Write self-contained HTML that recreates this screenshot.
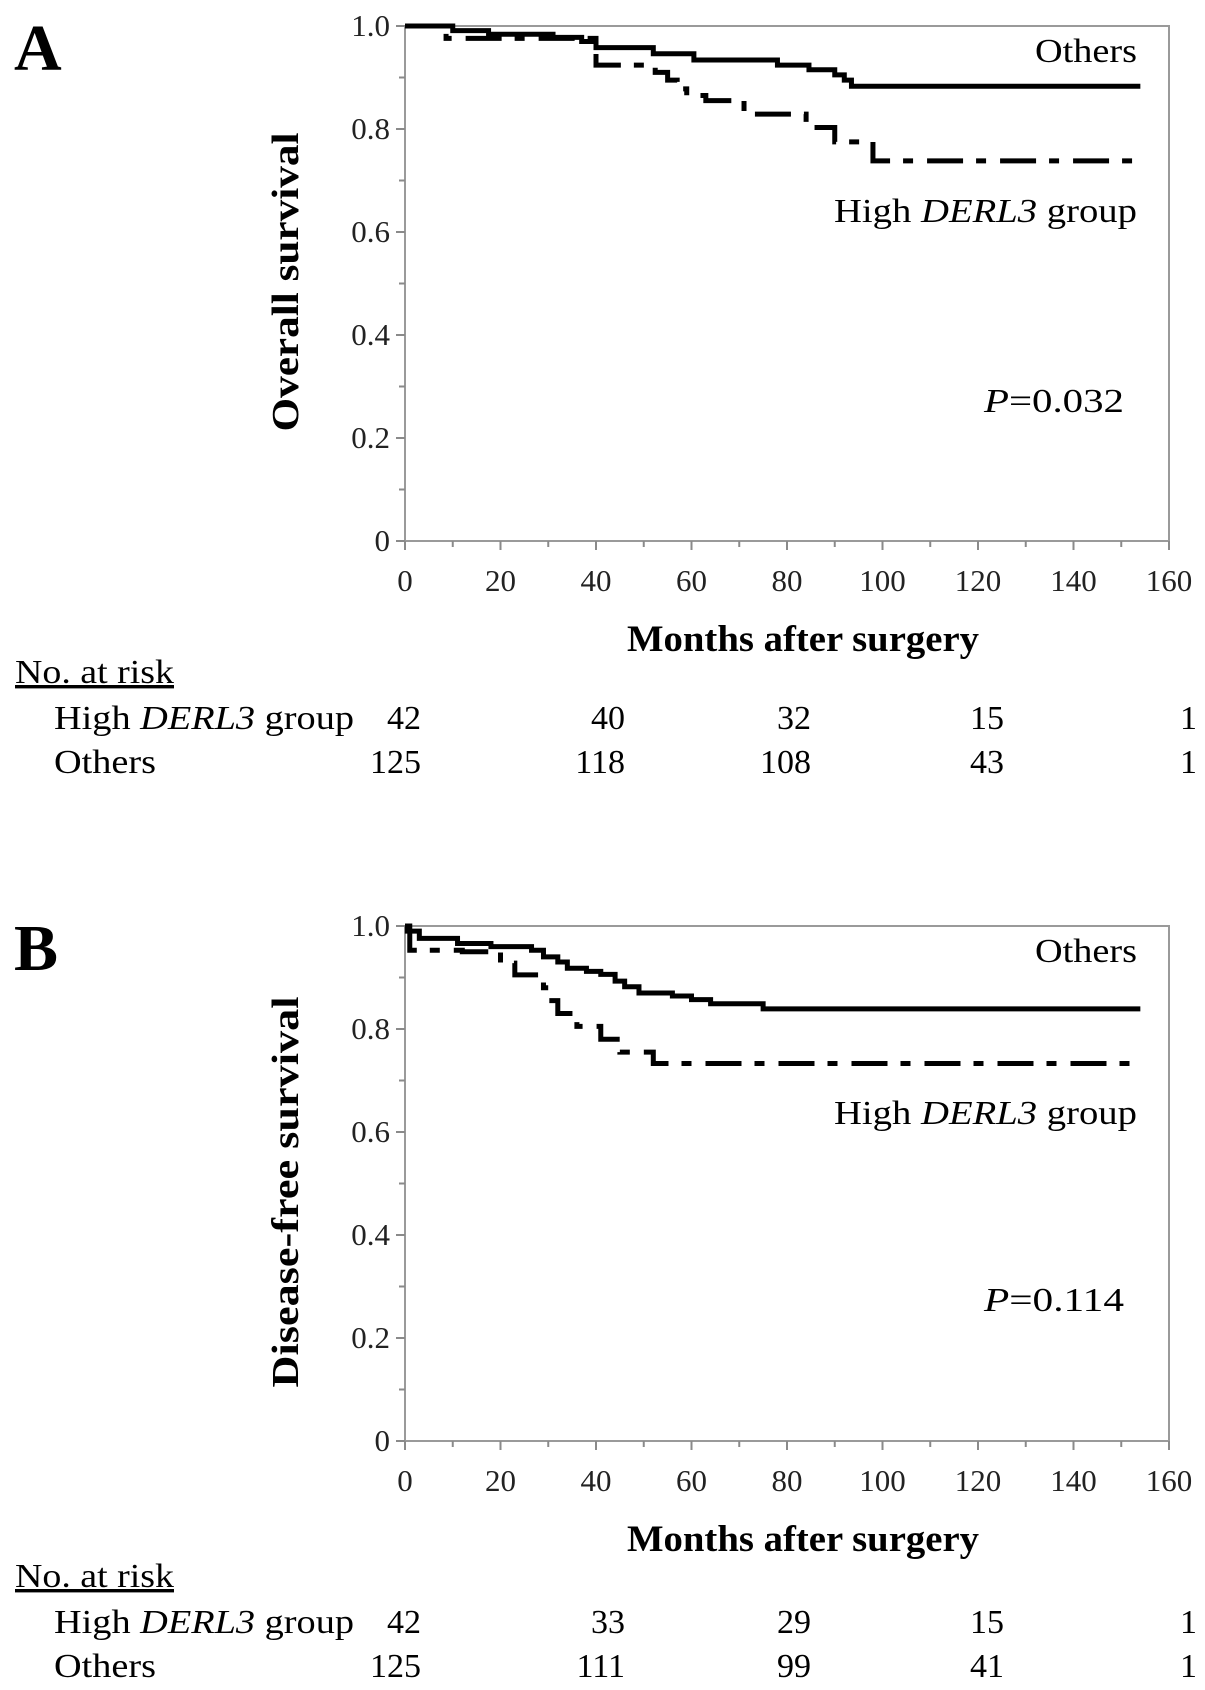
<!DOCTYPE html>
<html><head><meta charset="utf-8">
<style>
html,body{margin:0;padding:0;background:#fff;}
svg{display:block;font-family:"Liberation Serif",serif;}
</style></head>
<body>
<svg id="fig" width="1205" height="1690" viewBox="0 0 1205 1690" xmlns="http://www.w3.org/2000/svg"></svg>
<script>
// ---- data ----
const xTicks = [0,20,40,60,80,100,120,140,160];
const yTicks = [0,0.2,0.4,0.6,0.8,1.0];
const yTickLabels = ["0","0.2","0.4","0.6","0.8","1.0"];
const riskMonths = [0,40,80,120,160];
// Panel A overall survival (time, survival)
const aOthersT = [0,10,17.5,31,37,40,52,60.5,78,84.6,90,92,93.5,154];
const aOthersS = [1.0,0.991,0.984,0.978,0.97,0.958,0.946,0.934,0.924,0.915,0.905,0.895,0.883,0.883];
const aHighT = [0,8.6,40,52.4,55,57,59,63,71,84,90,98,154];
const aHighS = [1.0,0.976,0.924,0.91,0.895,0.878,0.865,0.855,0.829,0.803,0.775,0.738,0.738];
// Panel B disease-free survival
const bOthersT = [0,0.5,3,11,18,26.5,29,32,34,38,41,44,46,49,56,60,64,75,154];
const bOthersS = [1.0,0.99,0.976,0.966,0.96,0.953,0.94,0.93,0.918,0.912,0.906,0.893,0.882,0.87,0.864,0.857,0.849,0.839,0.839];
const bHighT = [0,1,12,20,23,29,30,32,36,41,45,52,154];
const bHighS = [1.0,0.953,0.95,0.928,0.905,0.88,0.855,0.83,0.805,0.78,0.755,0.733,0.733];
const aRiskHigh = ["42","40","32","15","1"];
const aRiskOthers = ["125","118","108","43","1"];
const bRiskHigh = ["42","33","29","15","1"];
const bRiskOthers = ["125","111","99","41","1"];

const NS="http://www.w3.org/2000/svg";
const svg=document.getElementById('fig');
function mk(tag,attrs,parent){const e=document.createElementNS(NS,tag);for(const k in attrs)e.setAttribute(k,attrs[k]);(parent||svg).appendChild(e);return e;}

const X0=405,X1=1169;
function xs(m){return X0+(X1-X0)*m/160;}
const LA='spacingAndGlyphs';

function panel(cfg){
  const top=cfg.top, bot=top+515;
  function ys(v){return bot-(bot-top)*v;}
  const g=mk('g',{});
  
  
  const letter=mk('text',{x:14,y:cfg.top+44,'font-size':66,'font-weight':'bold'},g);
  letter.textContent=cfg.letter;
  
  
  const frame=mk('rect',{x:X0,y:top,width:X1-X0,height:515,fill:'none',stroke:'#9a9a9a','stroke-width':2},g);
  
  
  for(let m=0;m<=160;m+=10){
    const t=mk('line',{x1:xs(m),x2:xs(m),y1:bot,y2:bot+(m%20===0?9:6),stroke:'#8a8a8a','stroke-width':2},g);
    
    
  }
  for(let i=0;i<=10;i++){
    const v=i/10;
    const t=mk('line',{x1:X0-(i%2===0?9:6),x2:X0,y1:ys(v),y2:ys(v),stroke:'#8a8a8a','stroke-width':2},g);
    
    
  }
  xTicks.forEach(m=>{
    const t=mk('text',{x:xs(m),y:top+565,'font-size':31,'text-anchor':'middle',fill:'#222'},g);
    t.textContent=String(m);
    
    
  });
  yTicks.forEach((v,i)=>{
    const t=mk('text',{x:390,y:ys(v)+10,'font-size':31,'text-anchor':'end',fill:'#222'},g);
    t.textContent=yTickLabels[i];
    
    
  });
  const yt=mk('text',{x:0,y:0,'font-size':38,'font-weight':'bold','text-anchor':'middle',textLength:cfg.yTitleLen,lengthAdjust:LA,transform:`translate(298,${cfg.yTitleY}) rotate(-90)`},g);
  yt.textContent=cfg.yTitle;
  
  
  const xt=mk('text',{x:803,y:top+625,'font-size':37,'font-weight':'bold','text-anchor':'middle',textLength:352,lengthAdjust:LA},g);
  xt.textContent='Months after surgery';
  
  
  function curve(T,S,name,dash){
    let d='M'+xs(T[0])+','+ys(S[0]);
    for(let i=1;i<T.length;i++){d+=' H'+xs(T[i])+' V'+ys(S[i]);}
    const p=mk('path',{d:d,fill:'none',stroke:'#000','stroke-width':5,'stroke-linejoin':'miter'},g);
    if(dash)p.setAttribute('stroke-dasharray',dash);
    
    
  }
  curve(cfg.oT,cfg.oS,'others-curve',null);
  curve(cfg.hT,cfg.hS,'high-derl3-curve','36 13 10 14');
  const lo=mk('text',{x:1137,y:top+36,'font-size':34,'text-anchor':'end',textLength:102,lengthAdjust:LA},g);
  lo.textContent='Others';
  
  
  const lh=mk('text',{x:1137,y:top+cfg.hLabelDy,'font-size':34,'text-anchor':'end',textLength:303,lengthAdjust:LA},g);
  lh.innerHTML='High <tspan font-style="italic">DERL3</tspan> group';
  
  
  const pv=mk('text',{x:1124,y:top+cfg.pDy,'font-size':34,'text-anchor':'end',textLength:140,lengthAdjust:LA},g);
  pv.innerHTML='<tspan font-style="italic">P</tspan>=0.'+cfg.p;
  
  
  const nr=mk('text',{x:15,y:top+cfg.riskDy,'font-size':34,'text-decoration':'underline',textLength:159,lengthAdjust:LA},g);
  nr.textContent='No. at risk';
  
  
  const r1=mk('text',{x:54,y:top+cfg.riskDy+46,'font-size':34,textLength:300,lengthAdjust:LA},g);
  r1.innerHTML='High <tspan font-style="italic">DERL3</tspan> group';
  
  
  const r2=mk('text',{x:54,y:top+cfg.riskDy+90,'font-size':34,textLength:102,lengthAdjust:LA},g);
  r2.textContent='Others';
  
  
  const cols=[421,625,811,1004,1197];
  riskMonths.forEach((m,i)=>{
    const a=mk('text',{x:cols[i],y:top+cfg.riskDy+46,'font-size':34,'text-anchor':'end'},g);
    a.textContent=cfg.rh[i];
    
    
    const b=mk('text',{x:cols[i],y:top+cfg.riskDy+90,'font-size':34,'text-anchor':'end'},g);
    b.textContent=cfg.ro[i];
    
    
  });
}
panel({name:'panel-a',letter:'A',top:26,yTitle:'Overall survival',yTitleLen:299,yTitleY:282,oT:aOthersT,oS:aOthersS,hT:aHighT,hS:aHighS,hLabelDy:196,pDy:386,p:'032',riskDy:657,rh:aRiskHigh,ro:aRiskOthers});
panel({name:'panel-b',letter:'B',top:926,yTitle:'Disease-free survival',yTitleLen:391,yTitleY:1192,oT:bOthersT,oS:bOthersS,hT:bHighT,hS:bHighS,hLabelDy:198,pDy:385,p:'114',riskDy:661,rh:bRiskHigh,ro:bRiskOthers});
</script>
</body></html>
